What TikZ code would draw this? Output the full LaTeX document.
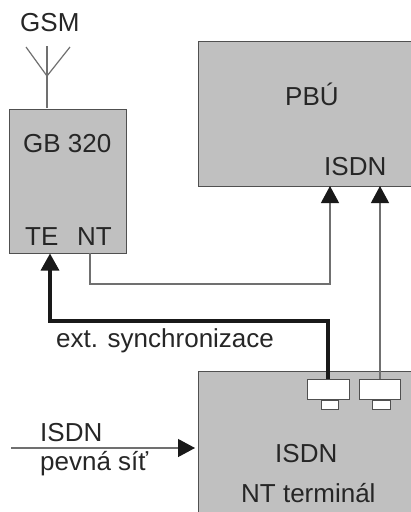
\documentclass[tikz,border=0pt]{standalone}
\usepackage{fontspec}
\setmainfont{Liberation Sans}
\usetikzlibrary{arrows.meta}
\definecolor{boxgray}{HTML}{C0C0C0}
\definecolor{edgegray}{HTML}{505050}
\definecolor{linegray}{HTML}{707070}
\tikzset{
  x=1pt,y=-1pt,
  plug/.style={draw=edgegray,fill=white,line width=1pt},
  lbl/.style={inner sep=0pt,anchor=base west,text=black!85,font=\fontsize{26}{26}\selectfont},
  thin wire/.style={draw=linegray,line width=1.2pt},
  thin arrow/.style={draw=linegray,line width=1.2pt,-{Triangle[length=17pt,width=18pt,color=black!90]}},
  thick arrow/.style={draw=black!90,line width=3.2pt,-{Triangle[length=17pt,width=18pt,color=black!90]}},
}
\begin{document}
\begin{tikzpicture}
\useasboundingbox (0,0) rectangle (411,512);
\fill[white] (0,0) rectangle (411,512);
% boxes
\draw[draw=edgegray,fill=boxgray,line width=1pt] (9.5,109) rectangle (126,253);
\fill[boxgray] (198,41) rectangle (411,186);
\draw[edgegray,line width=1pt] (411,41) -- (198,41) -- (198,186) -- (411,186);
\fill[boxgray] (198,371) rectangle (411,512);
\draw[edgegray,line width=1pt] (411,371) -- (198,371) -- (198,512);
% named anchors
\coordinate (gbtop) at (47,108);
\coordinate (antjoin) at (47,76);
\coordinate (anttop) at (47,46);
\coordinate (antl) at (26,47);
\coordinate (antr) at (70,47);
\coordinate (ntout) at (90,253);
\coordinate (ntc) at (90,284);
\coordinate (pbxc) at (330,284);
\coordinate (pbxa) at (330,186);
\coordinate (pbxb) at (380,186);
\coordinate (teb) at (50,253.5);
\coordinate (tec) at (50,321);
\coordinate (synca) at (328,321);
% antenna
\draw[thin wire] (gbtop) -- (anttop);
\draw[thin wire] (antl) -- (antjoin) -- (antr);
% plugs
\node[plug,minimum width=42pt,minimum height=20pt,inner sep=0pt] (plugA) at (328,389.5) {};
\node[plug,minimum width=17pt,minimum height=9pt,inner sep=0pt,anchor=north] (plugAs) at (329.5,399.5) {};
\node[plug,minimum width=41pt,minimum height=20pt,inner sep=0pt] (plugB) at (380,389.5) {};
\node[plug,minimum width=18pt,minimum height=9pt,inner sep=0pt,anchor=north] (plugBs) at (381,399.5) {};
% connectors
\draw[thin arrow] (ntout) -- (ntc) -- (pbxc) -- (pbxa);
\draw[thin arrow] (plugB.north) -- (pbxb);
\draw[thick arrow] (plugA.north -| synca) -- (synca) -- (tec) -- (teb);
\coordinate (isdnin) at (11,448);
\coordinate (isdnend) at (195,448);
\draw[thin arrow] (isdnin) -- (isdnend);
% labels
\node[lbl] (tGSM) at (20,31) {GSM};
\node[lbl] (tGB) at (23,152.5) {GB 320};
\node[lbl] (tTE) at (25,245) {TE};
\node[lbl] (tNT) at (77,245) {NT};
\node[lbl] (tPBU) at (285,105) {PBÚ};
\node[lbl] (tISDNa) at (324,175) {ISDN};
\node[lbl] (tsync) at (56,347) {ext. synchronizace};
\node[lbl] (tISDNb) at (40,441) {ISDN};
\node[lbl] (tpevna) at (40,470) {pevná síť};
\node[lbl] (tISDNc) at (275,462) {ISDN};
\node[lbl] (tterm) at (241,502) {NT terminál};
\end{tikzpicture}
\end{document}
